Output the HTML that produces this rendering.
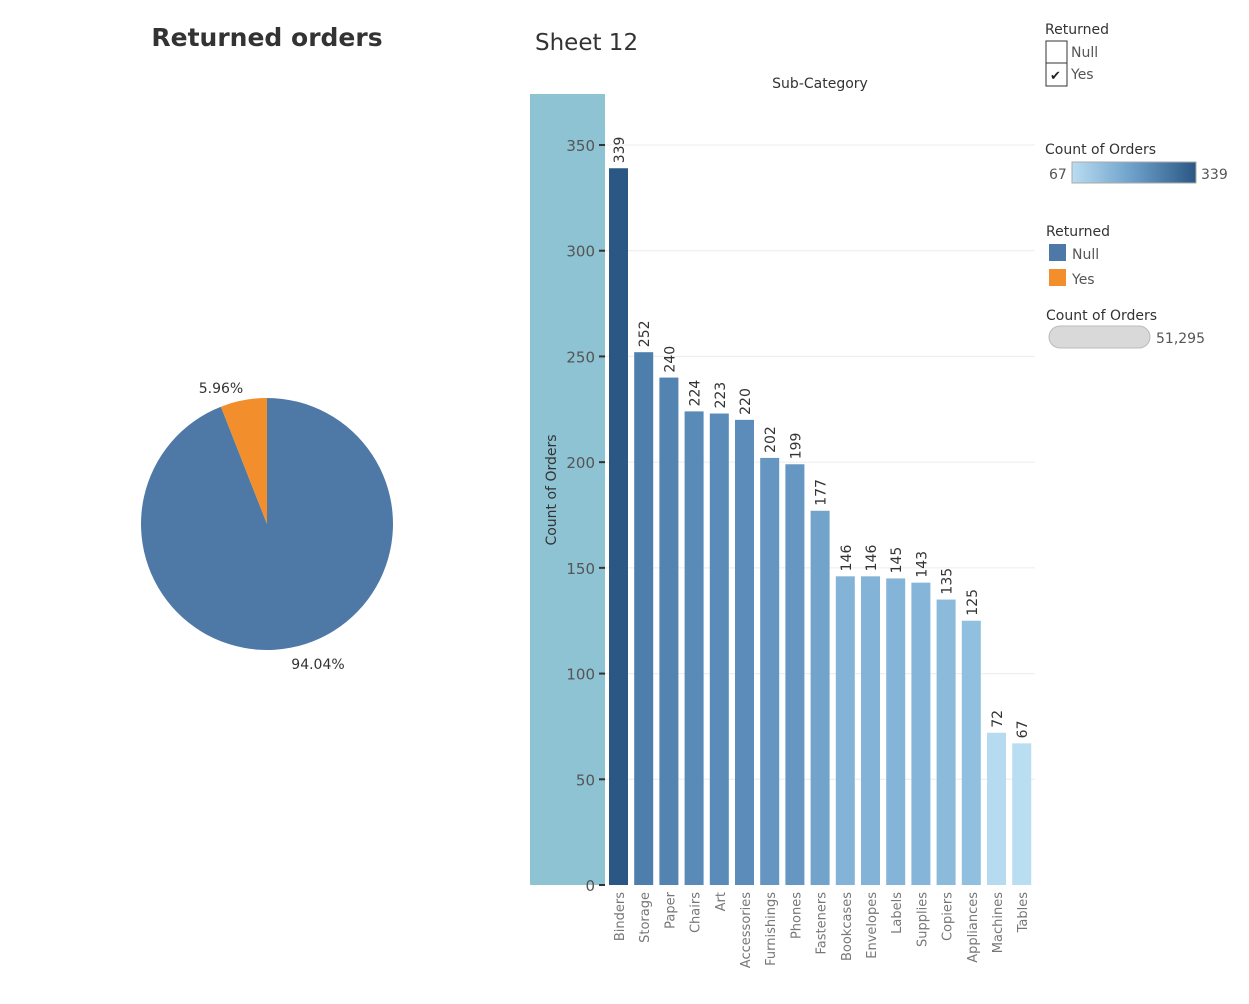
<!DOCTYPE html>
<html><head><meta charset="utf-8"><style>
body{margin:0;background:#fff;font-family:"Liberation Sans","DejaVu Sans",sans-serif;}
svg text{font-family:"DejaVu Sans","Liberation Sans",sans-serif;}
</style></head><body>
<svg id="c" width="1249" height="999" xmlns="http://www.w3.org/2000/svg">
<text x="267" y="46" text-anchor="middle" font-size="25" font-weight="bold" fill="#333">Returned orders</text>
<g id="pie"></g>
<text x="535" y="50" font-size="23" fill="#333">Sheet 12</text>
<text x="820" y="88" text-anchor="middle" font-size="14" fill="#333">Sub-Category</text>
<rect x="530" y="94" width="75" height="791" fill="#8dc3d3"/>
<text transform="translate(556,490) rotate(-90)" text-anchor="middle" font-size="14" fill="#333">Count of Orders</text>
<g id="grid"></g><g id="bars"></g>
<g>
<text x="1045" y="34" font-size="14" fill="#333">Returned</text>
<rect x="1046" y="41" width="21" height="22" fill="#fff" stroke="#333"/>
<text x="1071" y="57" font-size="14" fill="#555">Null</text>
<rect x="1046" y="63" width="21" height="23" fill="#fff" stroke="#333"/>
<text x="1050" y="80" font-size="13" fill="#222">✔</text>
<text x="1071" y="79" font-size="14" fill="#555">Yes</text>
</g>
<g>
<defs><linearGradient id="gr"><stop offset="0" stop-color="#b9ddf1"/><stop offset="0.5" stop-color="#6b9ec8"/><stop offset="1" stop-color="#2a5783"/></linearGradient></defs>
<text x="1045" y="154" font-size="14" fill="#333">Count of Orders</text>
<text x="1049" y="179" font-size="14" fill="#555">67</text>
<rect x="1072" y="162" width="124" height="21" fill="url(#gr)" stroke="#aaa"/>
<text x="1201" y="179" font-size="14" fill="#555">339</text>
</g>
<g>
<text x="1046" y="236" font-size="14" fill="#333">Returned</text>
<rect x="1049" y="244" width="17" height="17" fill="#4e79a7"/>
<text x="1072" y="259" font-size="14" fill="#555">Null</text>
<rect x="1049" y="269" width="17" height="17" fill="#f28e2b"/>
<text x="1072" y="284" font-size="14" fill="#555">Yes</text>
</g>
<g>
<text x="1046" y="320" font-size="14" fill="#333">Count of Orders</text>
<rect x="1049" y="326" width="101" height="22" rx="11" fill="#d9d9d9" stroke="#bbb"/>
<text x="1156" y="343" font-size="14" fill="#555">51,295</text>
</g>
</svg>
<script>
const categories=["Binders","Storage","Paper","Chairs","Art","Accessories","Furnishings","Phones","Fasteners","Bookcases","Envelopes","Labels","Supplies","Copiers","Appliances","Machines","Tables"];
const counts=[339,252,240,224,223,220,202,199,177,146,146,145,143,135,125,72,67];
const yTicks=[0,50,100,150,200,250,300,350];
const pieLabels=["Null","Yes"];
const pieShares=[94.04,5.96];
const NS="http://www.w3.org/2000/svg";
function mk(t,a,p){const e=document.createElementNS(NS,t);for(const k in a)e.setAttribute(k,a[k]);p.appendChild(e);return e;}
const y=v=>885-v*(740/350);
const x=i=>609+i*25.2;
const grid=document.getElementById('grid'),bars=document.getElementById('bars');
yTicks.forEach(t=>{
 if(t>0){const l=mk('line',{x1:605,x2:1035,y1:y(t),y2:y(t),stroke:'#ececec'},grid);
 
 }
 const tk=mk('line',{x1:599,x2:605,y1:y(t),y2:y(t),stroke:'#333','stroke-width':2},grid);
 
 
 const tx=mk('text',{x:595,y:y(t)+6,'text-anchor':'end','font-size':15,fill:'#555'},grid);tx.textContent=t;
 
 
});
const stops=[[67,[185,221,241]],[146,[131,180,216]],[220,[91,140,186]],[339,[42,87,131]]];
function col(v){for(let i=0;i<stops.length-1;i++){const [a,ca]=stops[i],[b,cb]=stops[i+1];if(v<=b){const f=(v-a)/(b-a);return 'rgb('+ca.map((c,j)=>Math.round(c+(cb[j]-c)*f)).join(',')+')';}}return 'rgb(42,87,131)';}
categories.forEach((c,i)=>{
 const v=counts[i];
 const r=mk('rect',{x:x(i),y:y(v),width:19,height:y(0)-y(v),fill:col(v)},bars);
 
 
 const lb=mk('text',{transform:`translate(${x(i)+15},${y(v)-5}) rotate(-90)`,'font-size':14,fill:'#333'},bars);lb.textContent=v;
 
 
 const cl=mk('text',{transform:`translate(${x(i)+15},892) rotate(-90)`,'text-anchor':'end','font-size':13,fill:'#777'},bars);cl.textContent=c;
 
 
});
const pie=document.getElementById('pie');const cx=267,cy=524,R=126;
const colors=["#4e79a7","#f28e2b"];
let ang=0;
pieShares.forEach((s,i)=>{
 const a0=ang,a1=ang+s/100*2*Math.PI;ang=a1;
 const p=a=>[cx+R*Math.sin(a),cy-R*Math.cos(a)];
 const [x0,y0]=p(a0),[x1,y1]=p(a1);
 const path=mk('path',{d:`M${cx},${cy}L${x0},${y0}A${R},${R} 0 ${a1-a0>Math.PI?1:0} 1 ${x1},${y1}Z`,fill:colors[i]},pie);
 
 
 const t=mk('text',{x:i==0?318:221,y:i==0?669:393,'text-anchor':'middle','font-size':14,fill:'#333'},pie);t.textContent=s.toFixed(2)+'%';
 
 
});
</script>
</body></html>
